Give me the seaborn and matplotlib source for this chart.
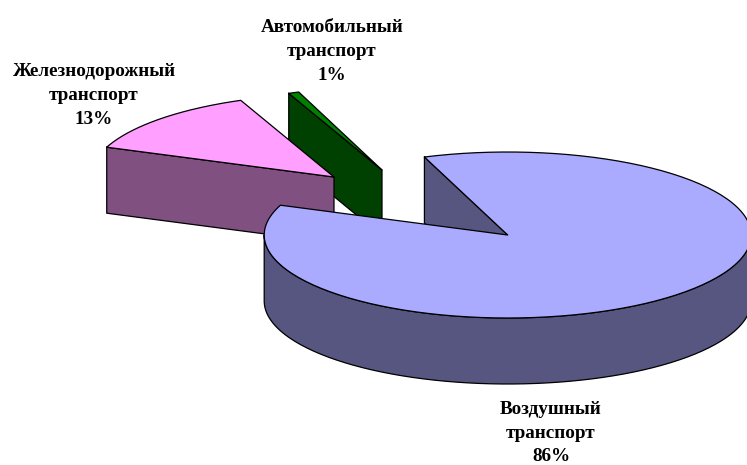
import numpy as np
import pandas as pd
import matplotlib
matplotlib.use("Agg")
import matplotlib.pyplot as plt
import seaborn as sns

# Data
names = ["Воздушный\nтранспорт", "Железнодорожный\nтранспорт", "Автомобильный\nтранспорт"]
shares = [86.4, 12.9, 0.7]

# Colours (top, side)
top_colors = ["#AAAAFF", "#FF9FFF", "#008000"]
side_colors = ["#565680", "#805080", "#004000"]

# Pie geometry
start_angle = 110
rx = 243.5
ry = 83
depth = 66
centers = [(507.7, 235), (334, 177), (382, 170)]
label_pos = [(551, 433), (94, 95.5), (332, 51.5)]

sns.set_theme(style="white")
plt.rcParams["font.family"] = ["Liberation Serif", "DejaVu Serif"]

fig = plt.figure(figsize=(7.47, 4.65), dpi=100)
ax = fig.add_axes([0, 0, 1, 1])

# Slice angles, clockwise from the start
edges = start_angle - 3.6 * np.cumsum([0] + shares)


def arc(i, t0, t1, drop=0):
    t = np.radians(np.linspace(t0, t1, 200))
    cx, cy = centers[i]
    return cx + rx * np.cos(t), cy - ry * np.sin(t) + drop


def shape(x, y, color, z):
    ax.fill(x, y, facecolor=color, edgecolor="none", zorder=z)
    # outline goes through seaborn, closed back to the first point
    df = pd.DataFrame({"x": np.append(x, x[0]), "y": np.append(y, y[0])})
    sns.lineplot(data=df, x="x", y="y", sort=False, estimator=None, color="black",
                 linewidth=0.9, ax=ax, zorder=z + 0.1)


def cut_face(i, t, color, z):
    cx, cy = centers[i]
    ox, oy = arc(i, t, t)
    xs = np.array([ox[0], cx, cx, ox[0]])
    ys = np.array([oy[0], cy, cy + depth, oy[0] + depth])
    shape(xs, ys, color, z)


def top(i, t0, t1, z):
    x, y = arc(i, t0, t1)
    cx, cy = centers[i]
    shape(np.append(x, cx), np.append(y, cy), top_colors[i], z)


# Car slice, at the back
cut_face(2, edges[2] + 360, side_colors[2], 1)
top(2, edges[2] + 360, edges[3] + 360, 2)

# Rail slice
cut_face(1, edges[1] + 360, side_colors[1], 3)
top(1, edges[1] + 360, edges[2] + 360, 4)

# Air slice: inner cut, outer wall, then top
cut_face(0, edges[0], side_colors[0], 5)
x1, y1 = arc(0, 180, 360)
x2, y2 = arc(0, 360, 180, drop=depth)
shape(np.append(x1, x2), np.append(y1, y2), side_colors[0], 6)
top(0, edges[0], edges[1], 7)

# Labels
for name, share, (lx, ly) in zip(names, shares, label_pos):
    ax.text(lx, ly, f"{name}\n{round(share)}%", ha="center", va="center", fontsize=13.8,
            fontweight="bold", color="black", linespacing=1.52, zorder=10)

ax.set_xlim(0, 747)
ax.set_ylim(465, 0)
ax.axis("off")
fig.savefig("out.png", dpi=100, facecolor="white")
